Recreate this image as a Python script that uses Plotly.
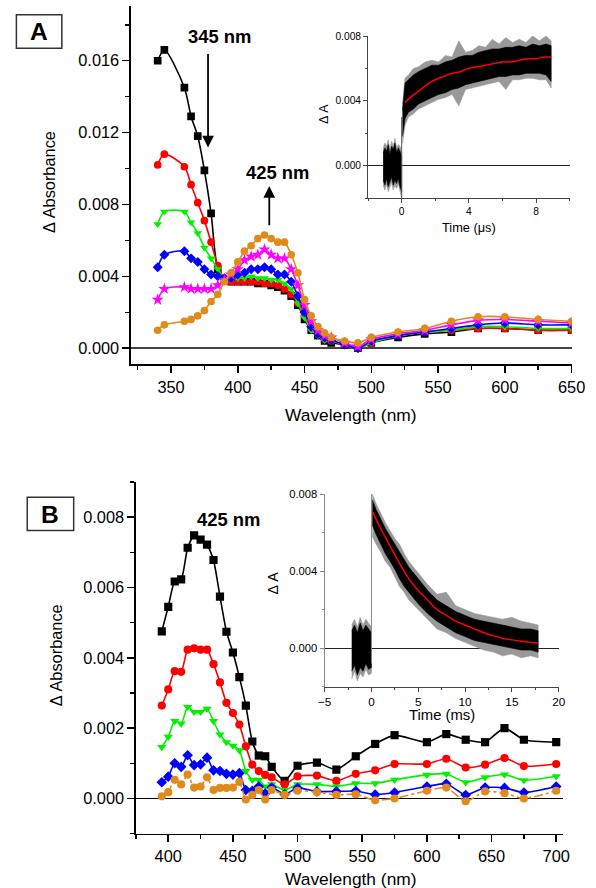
import plotly.graph_objects as go

W, H = 596, 888
FONT = "Arial, 'Liberation Sans', sans-serif"

# ---------------- Panel A data ----------------
wl_A = [340, 345, 360, 365, 370, 375, 380, 385, 390, 395, 400, 405, 410, 415, 420, 425, 430, 435,
        440, 445, 450, 455, 460, 465, 470, 480, 490, 500, 520, 540, 560, 580, 600, 625, 650]
A_black = [0.0160, 0.0166, 0.0145, 0.0129, 0.0118, 0.0099, 0.0075, 0.0044, 0.0038, 0.0037, 0.0037, 0.0037,
           0.0037, 0.0036, 0.0036, 0.0035, 0.0034, 0.0032, 0.0029, 0.0024, 0.0016, 0.0010, 0.0007, 0.0004,
           0.0003, 0.0002, 0.0000, 0.0003, 0.0006, 0.0008, 0.0009, 0.0011, 0.0011, 0.0010, 0.0010]
A_red = [0.0102, 0.0108, 0.0101, 0.0091, 0.0081, 0.0071, 0.0059, 0.0046, 0.0039, 0.0037, 0.0037, 0.0037,
         0.0037, 0.0037, 0.0036, 0.0036, 0.0035, 0.0033, 0.0030, 0.0025, 0.0018, 0.0011, 0.0008, 0.0005,
         0.0004, 0.0002, 0.0000, 0.0003, 0.0007, 0.0009, 0.0010, 0.0011, 0.0011, 0.0010, 0.0010]
A_green = [0.0069, 0.0076, 0.0076, 0.0070, 0.0064, 0.0056, 0.0050, 0.0044, 0.0039, 0.0038, 0.0039, 0.0039,
           0.0040, 0.0039, 0.0039, 0.0038, 0.0038, 0.0036, 0.0033, 0.0025, 0.0017, 0.0010, 0.0007, 0.00045,
           0.0004, 0.0002, 0.0000, 0.0003, 0.0007, 0.0009, 0.0010, 0.0012, 0.0012, 0.0011, 0.0011]
A_blue = [0.0045, 0.0052, 0.0054, 0.0050, 0.0048, 0.0044, 0.0041, 0.0040, 0.0039, 0.0039, 0.0041, 0.0042,
          0.0044, 0.0044, 0.0045, 0.0044, 0.0041, 0.0041, 0.0037, 0.0029, 0.0020, 0.0012, 0.0008, 0.0006,
          0.00045, 0.0002, 0.0000, 0.0004, 0.0007, 0.0009, 0.0011, 0.0013, 0.0014, 0.0013, 0.0013]
A_magenta = [0.0027, 0.0033, 0.0034, 0.0033, 0.0033, 0.0033, 0.0033, 0.0035, 0.0038, 0.0041, 0.0044, 0.0049,
             0.0051, 0.0052, 0.0055, 0.0052, 0.0050, 0.0050, 0.0044, 0.0035, 0.0024, 0.0015, 0.0010, 0.0007,
             0.0006, 0.0003, 0.0001, 0.0005, 0.0008, 0.0010, 0.0013, 0.00155, 0.0016, 0.0015, 0.0014]
A_orange = [0.0010, 0.0013, 0.0015, 0.0016, 0.0018, 0.0021, 0.0026, 0.0030, 0.0037, 0.0042, 0.0048, 0.0054,
            0.0057, 0.0061, 0.0063, 0.0061, 0.0059, 0.0059, 0.0052, 0.0042, 0.0027, 0.0018, 0.0012, 0.00085,
            0.0006, 0.0004, 0.0003, 0.0006, 0.0009, 0.0011, 0.0015, 0.00175, 0.00175, 0.0016, 0.0015]

insA_pre_t = [-1.1, -1.0, -0.9, -0.8, -0.7, -0.6, -0.5, -0.4, -0.3, -0.2, -0.1, 0.0]
insA_pre_up = [0.0008, 0.0011, 0.0009, 0.0013, 0.0007, 0.0012, 0.0010, 0.0014, 0.0008, 0.0011, 0.0009, 0.0006]
insA_pre_lo = [-0.0009, -0.0012, -0.0008, -0.0013, -0.0010, -0.0007, -0.0012, -0.0009, -0.0011, -0.0008, -0.0013, -0.0016]
insA_pre_gup = [0.0011, 0.0014, 0.0012, 0.0016, 0.0010, 0.0015, 0.0012, 0.0017, 0.0011, 0.0013, 0.0012, 0.0009]
insA_pre_glo = [-0.0012, -0.0015, -0.0011, -0.0016, -0.0013, -0.0010, -0.0015, -0.0012, -0.0014, -0.0011, -0.0016, -0.0020]
insA_t = [0.05, 0.2, 0.4, 0.7, 1.0, 1.4, 1.8, 2.2, 2.6, 3.0, 3.4, 3.8, 4.2, 4.6, 5.0, 5.4, 5.8, 6.2, 6.6,
          7.0, 7.4, 7.8, 8.2, 8.6, 8.9]
insA_core_up = [0.0034, 0.0051, 0.0053, 0.0056, 0.0058, 0.0060, 0.0062, 0.0062, 0.0064, 0.0065, 0.0067, 0.0068,
                0.0068, 0.0070, 0.0071, 0.0072, 0.0072, 0.0073, 0.0073, 0.0074, 0.0073, 0.0075, 0.0074, 0.0075, 0.0074]
insA_core_lo = [0.0018, 0.0029, 0.0033, 0.0035, 0.0038, 0.0040, 0.0042, 0.0044, 0.0045, 0.0047, 0.0048, 0.0050,
                0.0051, 0.0052, 0.0053, 0.0054, 0.0055, 0.0055, 0.0056, 0.0056, 0.0057, 0.0057, 0.0057, 0.0056, 0.0052]
insA_grey_up = [0.0038, 0.0054, 0.0056, 0.0060, 0.0061, 0.0064, 0.0065, 0.0064, 0.0068, 0.0067, 0.0077, 0.0070,
                0.0071, 0.0074, 0.0073, 0.0078, 0.0075, 0.0079, 0.0076, 0.0078, 0.0076, 0.0080, 0.0077, 0.0080, 0.0077]
insA_grey_lo = [0.0014, 0.0025, 0.0030, 0.0032, 0.0035, 0.0037, 0.0039, 0.0041, 0.0042, 0.0044, 0.0037, 0.0047,
                0.0048, 0.0049, 0.0050, 0.0051, 0.0052, 0.0047, 0.0053, 0.0053, 0.0054, 0.0054, 0.0053, 0.0053, 0.0048]
insA_jump_t = [0.0, 0.0]
insA_jump_v = [-0.0021, 0.0030]
insA_fit_t = [0.2, 0.5, 1, 1.5, 2, 2.5, 3, 3.5, 4, 4.5, 5, 5.5, 6, 6.5, 7, 7.5, 8, 8.5, 8.9]
insA_fit_v = [0.0039, 0.0042, 0.0046, 0.0050, 0.0053, 0.0055, 0.0057, 0.0058, 0.0060, 0.0061, 0.0062, 0.0063,
              0.0064, 0.0064, 0.0065, 0.0066, 0.0066, 0.0067, 0.0067]

# ---------------- Panel B data ----------------
wl_B = [395, 400, 405, 410, 415, 420, 425, 430, 435, 440, 445, 450, 455, 460, 465, 470, 475, 480, 490, 500,
        515, 530, 545, 560, 575, 600, 615, 630, 645, 660, 675, 700]
B_black = [0.00475, 0.00545, 0.00617, 0.00623, 0.00713, 0.00748, 0.00736, 0.00722, 0.00678, 0.00574, 0.00474,
           0.00415, 0.00345, 0.00264, 0.00162, 0.00122, 0.0012, 0.0009, 0.0005, 0.00093, 0.00102, 0.00082,
           0.0012, 0.00155, 0.0018, 0.0016, 0.00183, 0.00167, 0.0016, 0.0020, 0.00167, 0.0016]
B_red = [0.00264, 0.0031, 0.00362, 0.0036, 0.00423, 0.00427, 0.00423, 0.00423, 0.00382, 0.0033, 0.00272,
         0.00243, 0.0021, 0.00148, 0.00096, 0.00078, 0.00067, 0.0006, 0.0004, 0.00063, 0.00065, 0.0005,
         0.0007, 0.0008, 0.00098, 0.00098, 0.00113, 0.00088, 0.00096, 0.00115, 0.00092, 0.00098]
B_green = [0.00146, 0.00175, 0.0022, 0.00213, 0.0026, 0.00246, 0.00246, 0.00255, 0.0022, 0.00182, 0.0016,
           0.0015, 0.00137, 0.00078, 0.00053, 0.00053, 0.00034, 0.0004, 0.00024, 0.0004, 0.0004, 0.00034,
           0.00043, 0.00043, 0.00053, 0.00067, 0.0007, 0.00046, 0.0006, 0.00068, 0.00052, 0.00063]
B_blue = [0.00046, 0.00062, 0.0010, 0.0009, 0.00123, 0.00095, 0.00097, 0.00116, 0.0008, 0.00078, 0.0007,
          0.00068, 0.00072, 0.00024, 0.00022, 0.00034, 0.00014, 0.00031, 0.00012, 0.0003, 0.0002, 0.0002,
          0.00021, 0.00011, 0.00017, 0.00034, 0.00042, 0.0001, 0.00031, 0.0003, 0.00017, 0.00034]
B_orange = [0.00006, 0.00018, 0.00053, 0.0004, 0.00068, 0.00031, 0.00034, 0.0006, 0.00024, 0.0003, 0.0003,
            0.00031, 0.00047, -0.00003, 0.0001, 0.00024, -0.00003, 0.00024, 0.0001, 0.00022, 0.00018, 0.0001,
            0.00012, -0.00005, 0.0, 0.00022, 0.00031, -0.00008, 0.0002, 0.00015, 0.0, 0.00022]

insB_pre_t = [-2.1, -1.8, -1.5, -1.2, -0.9, -0.6, -0.3, 0.0]
insB_pre_up = [0.0009, 0.0012, 0.0008, 0.0013, 0.0009, 0.0012, 0.0010, 0.0008]
insB_pre_lo = [-0.0012, -0.0009, -0.0014, -0.0010, -0.0012, -0.0008, -0.0011, -0.0010]
insB_pre_gup = [0.0012, 0.0015, 0.0011, 0.0016, 0.0012, 0.0015, 0.0013, 0.0011]
insB_pre_glo = [-0.0016, -0.0012, -0.0017, -0.0013, -0.0015, -0.0011, -0.0014, -0.0013]
insB_t = [0.1, 0.5, 1, 1.5, 2, 2.5, 3, 3.5, 4, 5, 6, 7, 8, 9, 10, 11, 12, 13, 14, 15, 16, 17, 17.8]
insB_core_up = [0.0077, 0.0072, 0.0067, 0.0062, 0.0058, 0.0054, 0.0050, 0.0046, 0.0042, 0.0036, 0.0030, 0.0025,
                0.0022, 0.0019, 0.0017, 0.0015, 0.0014, 0.0013, 0.0012, 0.0011, 0.0010, 0.0010, 0.0009]
insB_core_lo = [0.0064, 0.0059, 0.0054, 0.0049, 0.0045, 0.0041, 0.0036, 0.0032, 0.0029, 0.0023, 0.0018, 0.0014,
                0.0011, 0.0008, 0.0006, 0.0004, 0.0003, 0.0002, 0.0001, 0.0000, -0.0001, -0.0001, -0.0002]
insB_grey_up = [0.0080, 0.0075, 0.0070, 0.0065, 0.0061, 0.0057, 0.0054, 0.0049, 0.0045, 0.0039, 0.0033, 0.0028,
                0.0029, 0.0022, 0.0020, 0.0018, 0.0017, 0.0016, 0.0015, 0.0016, 0.0014, 0.0013, 0.0012]
insB_grey_lo = [0.0058, 0.0054, 0.0050, 0.0045, 0.0042, 0.0037, 0.0032, 0.0029, 0.0025, 0.0020, 0.0015, 0.0010,
                0.0008, 0.0005, 0.0003, 0.0001, -0.0001, -0.0002, -0.0004, -0.0003, -0.0005, -0.0004, -0.0005]
insB_jump_t = [0.0, 0.0]
insB_jump_v = [-0.0008, 0.0080]
insB_fit_t = [0.1, 1, 2, 3, 4, 5, 6, 7, 8, 9, 10, 11, 12, 13, 14, 15, 16, 17, 17.8]
insB_fit_v = [0.0071, 0.0062, 0.0053, 0.0044, 0.0036, 0.0030, 0.0025, 0.0020, 0.0017, 0.0014, 0.0012, 0.0010,
              0.0008, 0.00065, 0.00052, 0.00043, 0.00036, 0.0003, 0.00027]

# ---------------- styles ----------------
ORANGE = "#e08a1c"
series_style = [
    ("square", "black"), ("circle", "red"), ("triangle-down", "#00f000"),
    ("diamond", "blue"), ("star", "#ff00ff"), ("circle", ORANGE),
]

# the photographed page is slightly scaled/offset; positions below are given in target pixels
SX, OX, SY, OY = 0.9766, 2.5, 0.980, 8.4
K = 1 / 0.978  # size compensation


def px(x):
    return ((x - OX) / SX) / W


def py(y):
    return 1 - ((y - OY) / SY) / H


def fs(s):
    return round(s * K, 2)


fig = go.Figure()

# Panel A main
for (sym, col), vals in zip(series_style, [A_black, A_red, A_green, A_blue, A_magenta, A_orange]):
    fig.add_trace(go.Scatter(x=wl_A, y=vals, mode="lines+markers", xaxis="x", yaxis="y",
                             line=dict(color=col, width=1.6, shape="spline", smoothing=0.8),
                             marker=dict(symbol=sym, color=col, size=fs(7.5) if sym != "star" else fs(9))))


def band(t, up, lo, color, xa, ya, lw=0.6):
    fig.add_trace(go.Scatter(x=list(t) + list(t)[::-1], y=list(up) + list(lo)[::-1], xaxis=xa, yaxis=ya,
                             mode="lines", fill="toself", fillcolor=color,
                             line=dict(color=color, width=lw), hoverinfo="skip"))


# Inset A
band(insA_pre_t, insA_pre_gup, insA_pre_glo, "#999999", "x2", "y2")
band(insA_pre_t, insA_pre_up, insA_pre_lo, "black", "x2", "y2")
fig.add_trace(go.Scatter(x=insA_jump_t, y=insA_jump_v, xaxis="x2", yaxis="y2", mode="lines",
                         line=dict(color="#555", width=1)))
band(insA_t, insA_grey_up, insA_grey_lo, "#999999", "x2", "y2")
band(insA_t, insA_core_up, insA_core_lo, "black", "x2", "y2")
fig.add_trace(go.Scatter(x=insA_fit_t, y=insA_fit_v, xaxis="x2", yaxis="y2", mode="lines",
                         line=dict(color="red", width=1.5, shape="spline")))

# Panel B main
for (sym, col), vals in zip(series_style[:4] + [series_style[5]], [B_black, B_red, B_green, B_blue, B_orange]):
    fig.add_trace(go.Scatter(x=wl_B, y=vals, mode="lines+markers", xaxis="x3", yaxis="y3",
                             line=dict(color=col, width=1.6, shape="spline", smoothing=0.6,
                                       dash="dashdot" if col == ORANGE else "solid"),
                             marker=dict(symbol=sym, color=col, size=fs(8))))

# Inset B
band(insB_pre_t, insB_pre_gup, insB_pre_glo, "#999999", "x4", "y4")
band(insB_pre_t, insB_pre_up, insB_pre_lo, "black", "x4", "y4")
fig.add_trace(go.Scatter(x=insB_jump_t, y=insB_jump_v, xaxis="x4", yaxis="y4", mode="lines",
                         line=dict(color="#888", width=1)))
band(insB_t, insB_grey_up, insB_grey_lo, "#999999", "x4", "y4")
band(insB_t, insB_core_up, insB_core_lo, "black", "x4", "y4")
fig.add_trace(go.Scatter(x=insB_fit_t, y=insB_fit_v, xaxis="x4", yaxis="y4", mode="lines",
                         line=dict(color="red", width=1.5, shape="spline")))


def axis(domain, rng, dtick, minor, size, ticklen, lw, anchor, zero=False, zcol="black", zw=1.5,
         fmt=None, lc="black"):
    d = dict(domain=domain, range=rng, dtick=dtick, tick0=0, ticks="outside", ticklen=ticklen,
             tickwidth=lw, tickcolor=lc, showline=True, linecolor=lc, linewidth=lw, showgrid=False,
             zeroline=zero, zerolinecolor=zcol, zerolinewidth=zw, anchor=anchor,
             tickfont=dict(family=FONT, size=fs(size), color="black"),
             minor=dict(dtick=minor, ticks="outside", ticklen=max(2, ticklen - 3), tickwidth=lw,
                        tickcolor=lc, showgrid=False),
             fixedrange=True)
    if fmt:
        d["tickformat"] = fmt
    return d


fig.update_layout(
    width=W, height=H, margin=dict(l=0, r=0, t=0, b=0),
    paper_bgcolor="white", plot_bgcolor="rgba(0,0,0,0)", showlegend=False,
    font=dict(family=FONT, color="black"),
    xaxis=axis([px(128), px(574)], [320, 650], 50, 25, 16, 7, 1.5, "y"),
    yaxis=axis([py(362), py(8.5)], [-0.0009, 0.01904], 0.004, 0.002, 16, 7, 1.5, "x",
               zero=True, zcol="#444", zw=1.5, fmt=".3f"),
    xaxis2=axis([px(368), px(572)], [-2, 10], 4, 2, 10, 4, 1, "y2", lc="#444"),
    yaxis2=axis([py(198), py(38)], [-0.002, 0.008], 0.004, 0.002, 10, 4, 1, "x2",
                zero=True, zcol="#222", zw=1, fmt=".3f", lc="#444"),
    xaxis3=axis([px(133), px(565)], [375, 705], 50, 25, 16, 7, 1.5, "y3"),
    yaxis3=axis([py(825), py(478)], [-0.001, 0.009], 0.002, 0.001, 16, 7, 1.5, "x3",
                zero=True, zcol="black", zw=1.5, fmt=".3f"),
    xaxis4=axis([px(324), px(561)], [-5, 20], 5, 2.5, 11.5, 4, 1, "y4", lc="#444"),
    yaxis4=axis([py(680), py(490)], [-0.002, 0.008], 0.004, 0.002, 11, 4, 1, "x4",
                zero=True, zcol="#222", zw=1, fmt=".3f", lc="#888"),
)

ann = []


def text(x, y, s, size, bold=False, angle=0):
    ann.append(dict(x=px(x), y=py(y), xref="paper", yref="paper", text=f"<b>{s}</b>" if bold else s,
                    showarrow=False, textangle=angle, xanchor="center", yanchor="middle",
                    font=dict(family=FONT, size=fs(size), color="black")))


def arrow(x, ytip, ytail):
    ann.append(dict(x=px(x), y=py(ytip), xref="paper", yref="paper", text="", showarrow=True,
                    ax=0, ay=(ytail - ytip) / SY, arrowhead=2, arrowsize=1.3, arrowwidth=1.8,
                    arrowcolor="black"))


text(35, 34, "A", 24, bold=True)
text(46.5, 510, "B", 24, bold=True)
text(218, 38, "345 nm", 18, bold=True)
arrow(206, 148, 55)
text(276, 173, "425 nm", 18, bold=True)
arrow(268, 186, 226)
text(227, 515, "425 nm", 18, bold=True)
text(45, 182, "Δ Absorbance", 16, angle=-90)
text(351, 412, "Wavelength (nm)", 17)
text(52, 649, "Δ Absorbance", 16, angle=-90)
text(351, 870, "Wavelength (nm)", 17)
text(323, 115, "Δ A", 12, angle=-90)
text(470, 227, "Time (μs)", 12.5)
text(272, 578, "Δ A", 14, angle=-90)
text(443, 708, "Time (ms)", 14.5)

fig.update_layout(annotations=ann, shapes=[
    dict(type="rect", xref="paper", yref="paper", x0=px(12), x1=px(58), y0=py(50), y1=py(17),
         line=dict(color="#333", width=1.5)),
    dict(type="rect", xref="paper", yref="paper", x0=px(23), x1=px(70), y0=py(526), y1=py(493),
         line=dict(color="#333", width=1.5)),
])

pin = ("var d=document.getElementById('{plot_id}');"
       "document.documentElement.style.margin='0';document.documentElement.style.padding='0';"
       "document.documentElement.style.overflow='hidden';"
       "document.body.style.margin='0';document.body.style.padding='0';document.body.style.overflow='hidden';"
       "d.style.position='absolute';d.style.left='0px';d.style.top='0px';")
fig.write_html("out.html", post_script=pin, config={"displayModeBar": False, "staticPlot": True})
